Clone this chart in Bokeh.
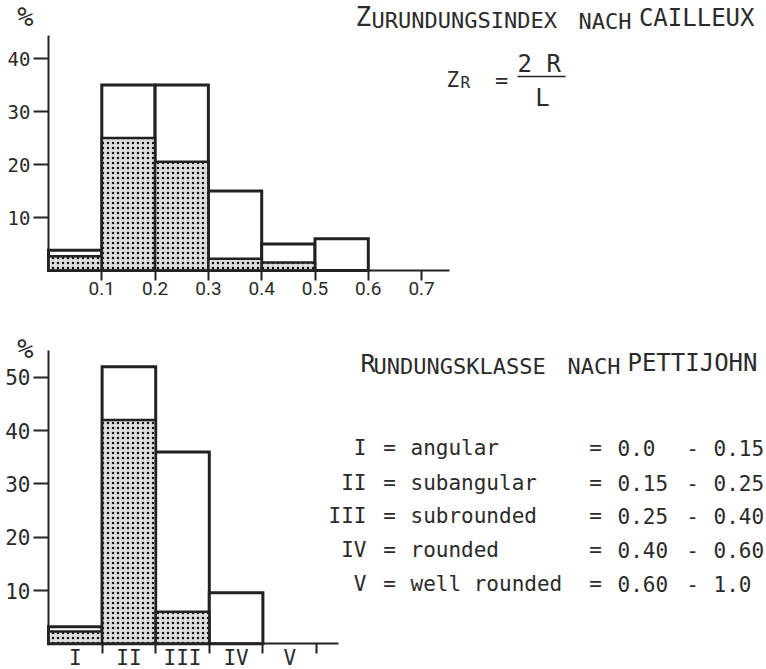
from bokeh.plotting import figure
from bokeh.models import Range1d, FixedTicker, Label, LabelSet, ColumnDataSource
from bokeh.layouts import column
from bokeh.embed import file_html
from bokeh.resources import INLINE
from bokeh.core.properties import value

# ---------------- data: Zurundungsindex nach Cailleux ----------------
zr_bin_left = [0.0, 0.1, 0.2, 0.3, 0.4, 0.5]
zr_bin_width = 0.1
zr_total = [3.8, 35.0, 35.0, 15.0, 5.0, 6.0]
zr_stippled = [2.7, 25.0, 20.5, 2.2, 1.5, 0.0]
zr_xticks = [0.1, 0.2, 0.3, 0.4, 0.5, 0.6, 0.7]
zr_yticks = [10, 20, 30, 40]

# ---------------- data: Rundungsklasse nach Pettijohn ----------------
classes = ["I", "II", "III", "IV", "V"]
cls_total = [3.2, 52.0, 36.0, 9.6, 0.0]
cls_stippled = [2.3, 42.0, 6.0, 0.0, 0.0]
cls_yticks = [10, 20, 30, 40, 50]
cls_names = ["angular", "subangular", "subrounded", "rounded", "well rounded"]
cls_lo = ["0.0", "0.15", "0.25", "0.40", "0.60"]
cls_hi = ["0.15", "0.25", "0.40", "0.60", "1.0"]

INK = "#222222"
TXT = "#2b2b2b"
MONO = "DejaVu Sans Mono"
SANS = "Roboto"

# ---------------- layout (page pixels) ----------------
W = 766
PX0 = 0
# top figure: canvas from page y 0 to 305
H1 = 305
T1 = 0
O1_X, O1_Y = 48, 270          # page position of data origin
X1_PX, Y1_PX = 533.0, 5.3     # px per unit
X1_END, Y1_TOP = 449, 35      # axis extents (page)
# bottom figure: canvas from page y 305 to 669
H2 = 364
T2 = T1 + H1
O2_X, O2_Y = 48, 643.3
X2_PX, Y2_PX = 53.6, 5.33
X2_END, Y2_TOP = 338, 350


def x1(px):
    return (px - O1_X) / X1_PX


def y1(py):
    return (O1_Y - py) / Y1_PX


def x2(px):
    return (px - O2_X) / X2_PX


def y2(py):
    return (O2_Y - py) / Y2_PX


def make_fig(height, xr, yr):
    p = figure(width=W, height=height, toolbar_location=None, output_backend="svg",
               x_range=Range1d(*xr), y_range=Range1d(*yr), title=None,
               min_border=0, min_border_left=0, min_border_right=0,
               min_border_top=0, min_border_bottom=0)
    p.outline_line_color = None
    p.xgrid.visible = False
    p.ygrid.visible = False
    p.background_fill_color = "white"
    p.border_fill_color = "white"
    for ax in (p.xaxis[0], p.yaxis[0]):
        ax.fixed_location = 0
        ax.axis_line_color = INK
        ax.axis_line_width = 2
        ax.major_tick_line_color = INK
        ax.major_tick_line_width = 2
        ax.minor_tick_line_color = INK
        ax.minor_tick_line_width = 2
        ax.major_tick_in = 0
        ax.minor_tick_in = 0
        ax.minor_tick_out = 0
        ax.major_label_text_color = TXT
    return p


def lab(p, x, y, text, size, align="left", font=MONO):
    p.add_layout(Label(x=x, y=y, text=text, text_font=font, text_font_size=size,
                       text_align=align, text_baseline="middle", text_color=TXT))


def bars(p, left, right, total, stippled):
    ti = [i for i, v in enumerate(total) if v > 0]
    p.quad(left=[left[i] for i in ti], right=[right[i] for i in ti], bottom=0,
           top=[total[i] for i in ti], fill_color="white", line_color=INK,
           line_width=3, line_join="miter")
    si = [i for i, v in enumerate(stippled) if v > 0]
    p.quad(left=[left[i] for i in si], right=[right[i] for i in si], bottom=0,
           top=[stippled[i] for i in si], fill_color="#dedede",
           hatch_pattern="dot", hatch_color="#111111", hatch_scale=5, hatch_weight=2,
           line_color=INK, line_width=2.5, line_join="miter")


# =============== top chart ===============
p1 = make_fig(H1, (x1(PX0), x1(PX0 + W)), (y1(T1 + H1), y1(T1)))
zr_right = [l + zr_bin_width for l in zr_bin_left]
bars(p1, zr_bin_left, zr_right, zr_total, zr_stippled)

p1.xaxis.bounds = (0, x1(X1_END))
p1.yaxis.bounds = (0, y1(Y1_TOP))
p1.xaxis.ticker = FixedTicker(ticks=zr_xticks)
p1.xaxis.major_tick_out = 10
p1.xaxis.major_label_standoff = 1
p1.xaxis.major_label_text_font = SANS
p1.xaxis.major_label_text_font_size = "19px"
p1.yaxis.ticker = FixedTicker(ticks=zr_yticks)
p1.yaxis.major_tick_out = 15
p1.yaxis.major_label_standoff = 3
p1.yaxis.major_label_text_font = MONO
p1.yaxis.major_label_text_font_size = "19px"

lab(p1, x1(25), y1(16), "%", "27px", align="center")
# title (small-caps lettering)
lab(p1, x1(355), y1(16.5), "Z", "26px")
lab(p1, x1(371), y1(20), "URUNDUNGSINDEX", "22px")
lab(p1, x1(578), y1(20.5), "NACH", "22px")
lab(p1, x1(754), y1(17.5), "CAILLEUX", "24px", align="right")
# formula Zr = 2R / L
lab(p1, x1(446), y1(79.5), "Z", "21px")
lab(p1, x1(460), y1(81.5), "R", "16px")
lab(p1, x1(501), y1(80), "=", "22px", align="center")
lab(p1, x1(517), y1(63.5), "2 R", "24px")
lab(p1, x1(542), y1(97.5), "L", "24px", align="center")
p1.line(x=[x1(517), x1(565)], y=[y1(76), y1(76)], line_color=INK, line_width=1.5)

# =============== bottom chart ===============
p2 = make_fig(H2, (x2(PX0), x2(PX0 + W)), (y2(T2 + H2), y2(T2)))
n = len(classes)
c_left = [float(i) for i in range(n)]
c_right = [float(i + 1) for i in range(n)]
bars(p2, c_left, c_right, cls_total, cls_stippled)

p2.xaxis.bounds = (0, x2(X2_END))
p2.yaxis.bounds = (0, y2(Y2_TOP))
p2.xaxis.ticker = FixedTicker(ticks=[i + 0.5 for i in range(n)],
                              minor_ticks=[float(i + 1) for i in range(n)])
p2.xaxis.major_label_overrides = {i + 0.5: c for i, c in enumerate(classes)}
p2.xaxis.major_tick_out = 0
p2.xaxis.major_tick_line_color = None
p2.xaxis.minor_tick_out = 10
p2.xaxis.major_label_standoff = -8
p2.xaxis.major_label_text_font = MONO
p2.xaxis.major_label_text_font_size = "21px"
p2.yaxis.ticker = FixedTicker(ticks=cls_yticks)
p2.yaxis.major_tick_out = 15
p2.yaxis.major_label_standoff = 3
p2.yaxis.major_label_text_font = MONO
p2.yaxis.major_label_text_font_size = "21px"

lab(p2, x2(25), y2(348), "%", "27px", align="center")
lab(p2, x2(360), y2(362.5), "R", "25px")
lab(p2, x2(373), y2(365.5), "UNDUNGSKLASSE", "22px")
lab(p2, x2(567), y2(365.5), "NACH", "22px")
lab(p2, x2(757), y2(362.5), "PETTIJOHN", "24px", align="right")

row_py = [447, 482, 515, 549, 583]
row_y = [y2(v) for v in row_py]


def col_set(px, texts, align):
    src = ColumnDataSource(dict(x=[x2(px)] * n, y=row_y, t=texts))
    p2.add_layout(LabelSet(x="x", y="y", text="t", source=src,
                           text_font=value(MONO), text_font_size="21px",
                           text_align=align, text_baseline="middle", text_color=TXT))


col_set(366, classes, "right")
col_set(389, ["="] * n, "center")
col_set(410, cls_names, "left")
col_set(595, ["="] * n, "center")
col_set(617, cls_lo, "left")
col_set(692, ["-"] * n, "center")
col_set(713, cls_hi, "left")

layout = column(p1, p2)
open("out.html", "w").write(file_html(layout, INLINE))
